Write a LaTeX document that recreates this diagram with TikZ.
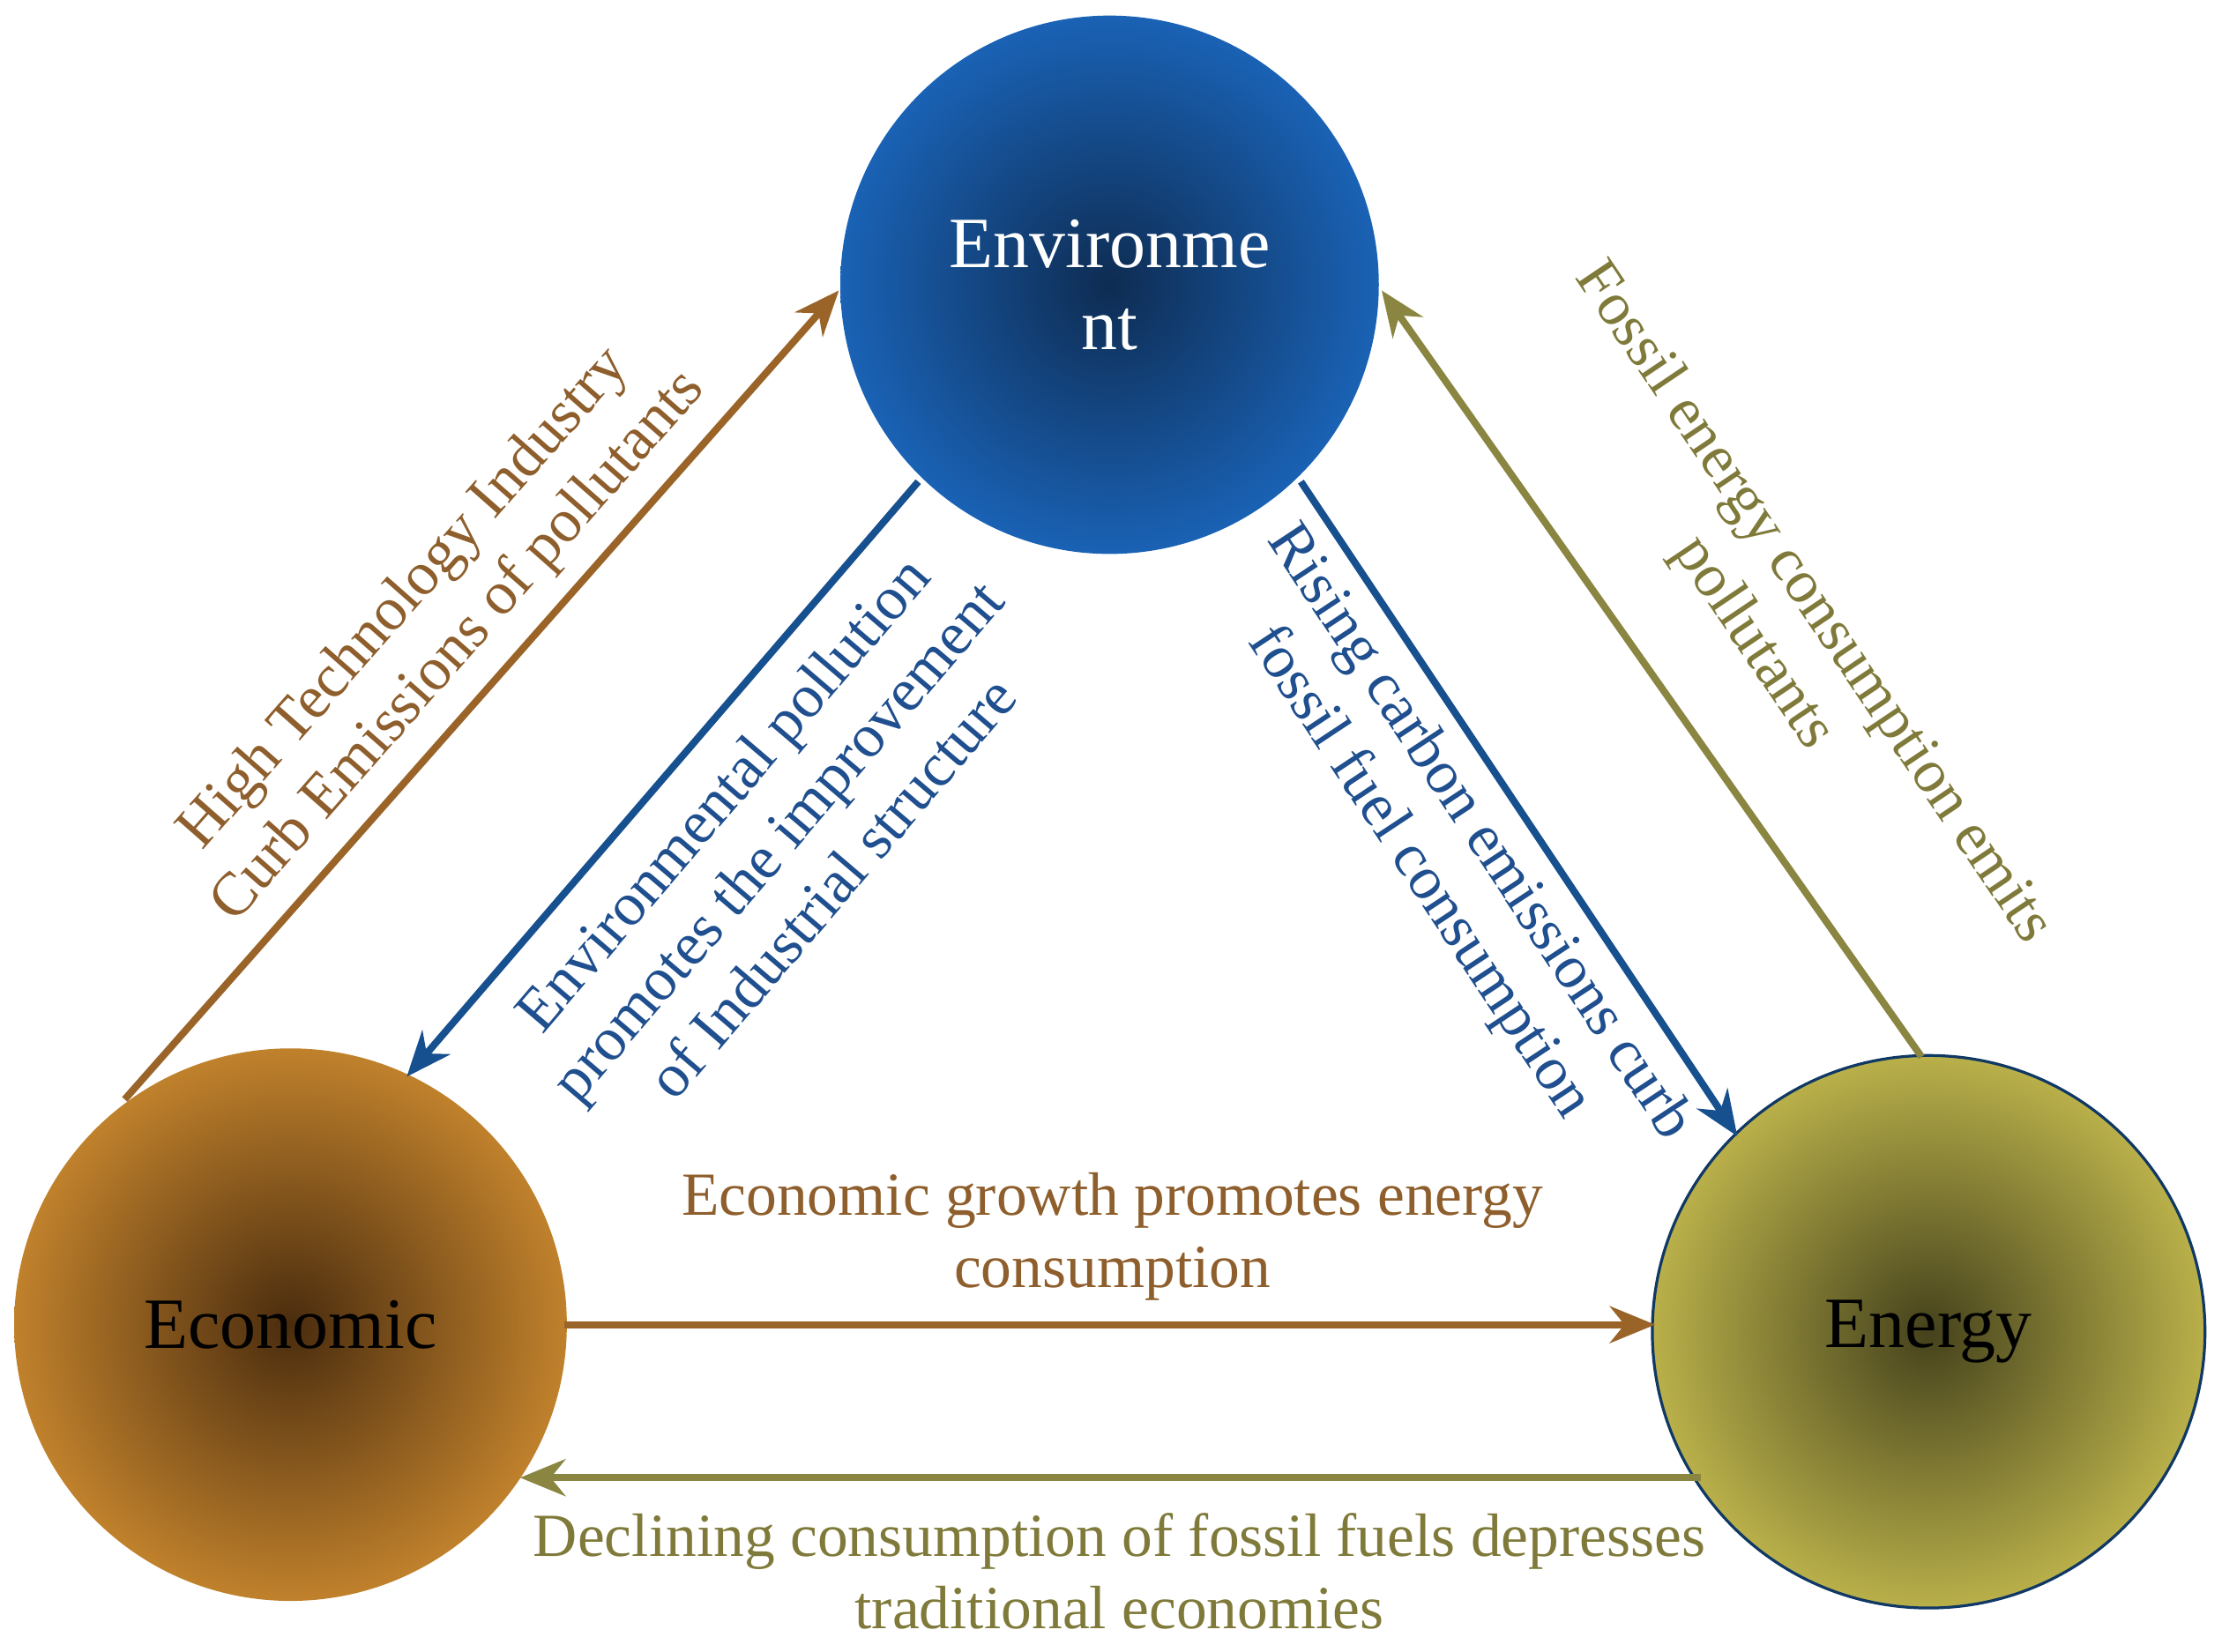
\documentclass[tikz,border=0pt]{standalone}
\usepackage{fontspec}
\setmainfont{Liberation Serif}
\usetikzlibrary{arrows.meta}
\definecolor{envout}{HTML}{1A62B5}
\definecolor{envin}{HTML}{0E2C52}
\definecolor{ecoout}{HTML}{C0812C}
\definecolor{ecoin}{HTML}{4A2C0E}
\definecolor{enout}{HTML}{B9B04A}
\definecolor{enin}{HTML}{45421C}
\definecolor{tbrown}{HTML}{8E5E2C}
\definecolor{tblue}{HTML}{1F4F8E}
\definecolor{tolive}{HTML}{7F7A3A}
\definecolor{abrown}{HTML}{9A6428}
\definecolor{ablue}{HTML}{17508F}
\definecolor{aolive}{HTML}{8A8540}
\tikzset{
  circ/.style={circle, minimum size=#1, inner sep=0pt, font=\fontsize{14.5}{16.5}\selectfont, align=center},
  conn/.style={line width=0.5mm, -{Stealth[length=3.2mm,width=2.6mm]}},
  lab/.style={font=\fontsize{12.3}{14.5}\selectfont, align=center},
}
\begin{document}
\begin{tikzpicture}[x=0.1mm,y=-0.1mm]
\useasboundingbox (0,0) rectangle (1568,1166);
\node[circ=38mm, shading=radial, inner color=envin, outer color=envout, text=white] (env) at (783,201) {Environme\\nt};
\node[circ=39mm, shading=radial, inner color=ecoin, outer color=ecoout] (eco) at (205,935) {Economic};
\node[circ=39mm, shading=radial, inner color=enin, outer color=enout, draw=ablue!70!black, line width=0.2mm] (ene) at (1361,940) {Energy};
\coordinate (a1s) at (88,776); \coordinate (a1e) at (592,205);
\draw[conn, abrown] (a1s) -- (a1e);
\node[lab, text=tbrown, rotate=48.6] (l1) at (305,440) {High Technology Industry\\Curb Emissions of pollutants};
\coordinate (a2s) at (648,340); \coordinate (a2e) at (287,760);
\draw[conn, ablue] (a2s) -- (a2e);
\node[lab, text=tblue, rotate=49.5] (l2) at (548,593) {Environmental pollution\\promotes the improvement\\of Industrial structure};
\coordinate (a3s) at (918,340); \coordinate (a3e) at (1226,802);
\draw[conn, ablue] (a3s) -- (a3e);
\node[lab, text=tblue, rotate=-56.5] (l3) at (1022,602) {Rising carbon emissions curb\\fossil fuel consumption};
\coordinate (a4s) at (1356,746); \coordinate (a4e) at (975,205);
\draw[conn, aolive] (a4s) -- (a4e);
\node[lab, text=tolive, rotate=-56] (l4) at (1258,440) {Fossil energy consumption emits\\pollutants};
\coordinate (a5s) at (398,935); \coordinate (a5e) at (1168,935);
\draw[conn, abrown] (a5s) -- (a5e);
\node[lab, text=tbrown] (l5) at (785,873) {Economic growth promotes energy\\consumption};
\coordinate (a6s) at (1200,1043); \coordinate (a6e) at (367,1043);
\draw[conn, aolive] (a6s) -- (a6e);
\node[lab, text=tolive] (l6) at (790,1109) {Declining consumption of fossil fuels depresses\\traditional economies};
\end{tikzpicture}
\end{document}
